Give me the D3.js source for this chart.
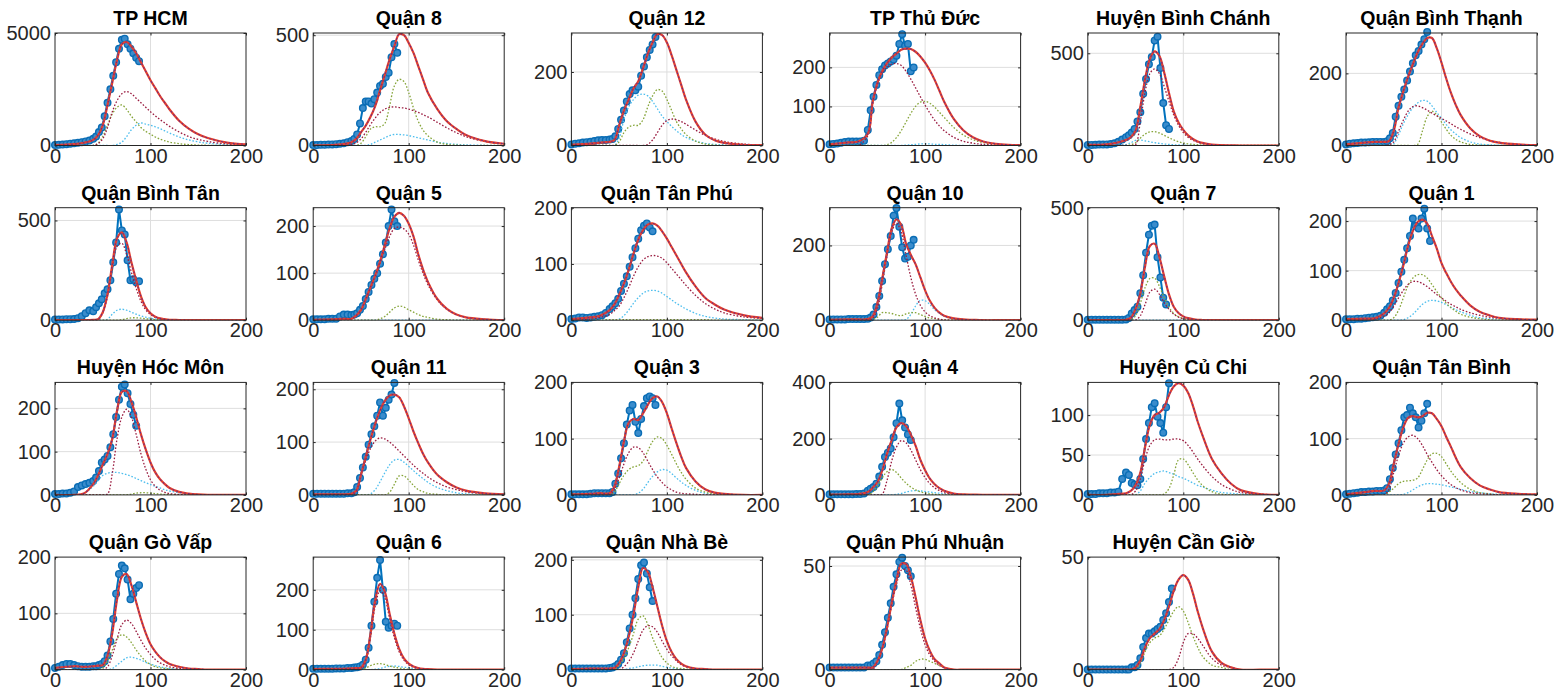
<!DOCTYPE html>
<html><head><meta charset="utf-8">
<script src="https://cdn.jsdelivr.net/npm/d3@7"></script>
<style>body{margin:0;background:#fff} svg{display:block}</style>
</head><body>
<svg id="c" width="1555" height="696"></svg>
<script>
const titles = ["TP HCM","Quận 8","Quận 12","TP Thủ Đức","Huyện Bình Chánh","Quận Bình Thạnh",
 "Quận Bình Tân","Quận 5","Quận Tân Phú","Quận 10","Quận 7","Quận 1",
 "Huyện Hóc Môn","Quận 11","Quận 3","Quận 4","Huyện Củ Chi","Quận Tân Bình",
 "Quận Gò Vấp","Quận 6","Quận Nhà Bè","Quận Phú Nhuận","Huyện Cần Giờ"];
const yMax = [5000,510,306,288,610,312,564,239,200,301,500,227,260,213,200,400,141,200,200,282,205,54.3,50];
const yTicks = [[0,5000],[0,500],[0,200],[0,100,200],[0,500],[0,200],[0,500],[0,100,200],[0,100,200],[0,200],[0,500],[0,100,200],
 [0,100,200],[0,100,200],[0,100,200],[0,200,400],[0,50,100],[0,100,200],[0,100,200],[0,100,200],[0,100,200],[0,50],[0,50]];
const xTicks = [0,100,200];
const obsX = [0,4,8,12,16,20,24,28,32,36,40,43,46,49,52,55,58,61,64,67,70,73,76,79,82,85,88];
const fitX = [0,20,30,40,45,50,55,60,65,70,75,80,85,90,95,100,105,110,115,120,130,140,150,160,180,200];

const observed = [
 [20,30,40,60,80,100,120,150,180,220,300,400,600,800,1300,1900,2500,3100,3700,4300,4700,4750,4500,4300,4100,3900,3750],
 [2,2,3,3,4,5,6,8,10,15,20,30,50,100,170,200,200,190,210,240,270,280,310,330,400,460,420],
 [3,5,6,8,9,10,12,14,15,15,16,18,25,45,70,95,120,140,150,150,160,190,215,240,260,275,295],
 [3,4,5,7,9,10,10,10,10,12,40,90,125,155,180,195,205,210,215,220,230,260,285,255,260,190,200],
 [3,3,4,5,5,6,8,12,20,32,45,55,70,90,130,180,280,360,440,480,570,590,420,230,110,90],
 [3,5,6,7,8,8,9,10,10,10,10,12,20,35,80,110,135,155,180,205,228,250,262,280,295,315],
 [3,3,4,5,5,6,10,20,35,50,45,65,85,105,135,155,200,290,390,555,450,430,300,200,205,190,195],
 [2,2,2,2,3,3,3,8,12,12,11,12,15,22,30,45,60,75,88,100,120,140,165,200,235,210,200],
 [2,3,5,5,4,5,6,7,9,13,20,25,30,38,52,65,78,95,112,128,145,160,168,172,165,158],
 [2,2,2,2,2,3,3,3,3,3,4,7,15,35,65,105,150,190,225,280,300,250,195,165,170,200,215],
 [2,2,2,2,2,2,2,2,2,2,3,10,30,45,60,120,200,300,380,420,425,280,190,100,70],
 [2,2,2,3,3,4,5,6,7,9,15,22,28,40,55,75,98,122,145,170,205,190,185,205,225,185,160],
 [2,2,3,3,5,8,18,22,25,28,32,40,55,75,82,90,110,140,180,220,250,255,235,210,185,160],
 [2,2,2,2,2,2,2,2,2,3,3,5,15,32,52,72,95,115,130,150,175,150,165,180,190,212],
 [1,1,1,1,1,2,3,3,3,3,3,5,20,38,65,92,125,150,160,130,110,135,158,172,175,172,160],
 [2,2,2,2,2,2,2,3,3,5,15,22,28,40,65,100,135,150,165,205,255,325,265,240,215,195],
 [1,1,1,2,2,2,3,3,4,20,28,25,15,13,12,20,45,70,90,110,115,98,90,78,110,140],
 [1,2,3,4,5,5,6,6,7,7,8,12,28,48,72,92,115,138,142,155,145,138,120,132,145,162],
 [3,5,8,10,10,8,6,5,5,5,6,6,8,10,15,25,50,90,135,170,185,180,160,125,135,145,150],
 [2,2,2,2,2,2,3,3,3,4,4,5,6,8,12,25,55,110,170,230,275,200,120,105,110,115,110],
 [2,2,2,2,2,2,2,2,2,2,3,4,6,10,18,30,50,75,100,130,165,190,195,175,150,125],
 [1,1,1,1,1,1,1,1,1,1,2,2,3,4,7,12,18,25,32,40,46,52,54,50,48,45],
 [0,0,0,0,0,0,0,0,0,0,0,0,1,1,2,5,10,14,16,16,17,18,19,22,25,30,36]
];

const fitTotal = [
 [20,60,120,250,450,900,1800,2800,3800,4500,4600,4400,4100,3700,3300,2900,2550,2200,1900,1600,1100,750,500,330,130,50],
 [0,2,5,15,30,60,90,130,180,250,320,390,450,505,500,465,420,360,300,240,165,110,75,48,20,8],
 [2,5,8,10,15,55,95,125,155,175,210,250,280,303,300,280,245,205,165,125,65,30,14,7,2,1],
 [3,8,10,30,110,160,190,210,225,235,245,248,247,240,228,212,192,168,140,112,68,39,21,11,3,1],
 [3,6,15,30,45,80,210,360,470,510,485,395,285,185,125,85,55,35,22,14,5,2,1,0,0,0],
 [3,8,10,10,12,40,105,150,190,225,258,282,298,298,270,230,185,145,112,85,48,26,14,8,3,1],
 [0,0,0,2,5,40,130,280,410,440,390,290,200,120,65,35,18,9,5,2,1,0,0,0,0,0],
 [1,2,3,3,10,22,45,70,95,125,160,195,220,228,222,205,178,140,108,82,45,24,12,6,2,0],
 [2,5,8,18,28,45,65,90,118,143,160,170,172,168,158,145,130,115,100,85,60,40,28,19,9,4],
 [1,2,2,3,10,45,110,180,245,270,255,205,175,150,115,80,52,33,20,12,5,2,1,0,0,0],
 [1,1,1,2,10,50,120,240,330,340,280,195,115,60,32,17,9,5,2,1,0,0,0,0,0,0],
 [2,3,4,14,25,45,75,110,150,180,198,203,195,170,145,115,95,77,62,50,30,17,10,5,2,1],
 [0,0,3,25,45,70,95,130,195,238,240,215,180,140,105,75,52,36,25,16,7,3,1,0,0,0],
 [1,1,1,2,8,38,72,105,135,160,178,188,190,185,168,145,120,98,78,62,38,24,14,8,3,1],
 [1,2,3,3,15,50,95,128,135,133,145,160,172,175,165,145,118,92,68,48,24,10,4,2,0,0],
 [1,2,3,10,25,45,85,145,195,240,255,245,215,175,125,88,58,38,24,15,5,2,1,0,0,0],
 [0,0,1,2,5,12,28,60,88,100,103,110,125,136,140,137,128,112,92,75,45,27,14,6,1,0],
 [1,5,7,8,20,55,90,120,137,140,138,140,146,145,135,122,103,85,66,50,30,17,10,5,2,1],
 [3,6,5,6,7,8,25,65,125,165,170,150,120,90,65,45,32,22,15,10,5,2,1,0,0,0],
 [1,2,2,3,4,5,25,90,175,215,195,140,90,52,28,15,8,4,2,1,0,0,0,0,0,0],
 [1,2,2,2,3,12,30,60,100,150,185,178,150,115,80,52,32,19,11,6,2,1,0,0,0,0],
 [1,1,1,1,1,4,10,20,32,43,51,51,45,35,24,15,9,5,3,1,0,0,0,0,0,0],
 [0,0,0,0,0,1,4,10,14,16,18,22,28,35,40,42,40,34,26,19,8,3,1,0,0,0]
];

const compMaroon = [
 [0,0,0,0,80,300,800,1500,2000,2300,2400,2300,2100,1900,1700,1500,1320,1150,1000,850,600,400,270,180,70,30],
 [0,0,0,5,12,30,60,95,125,150,165,173,175,172,170,165,158,150,140,130,105,80,58,40,18,7],
 [0,0,0,0,0,0,0,0,0,0,0,3,15,35,55,68,72,70,65,58,42,28,18,11,4,1],
 [0,0,0,25,105,155,185,200,208,210,205,190,170,148,125,103,83,65,50,38,21,11,6,3,1,0],
 [0,0,0,0,0,5,130,290,390,415,390,320,240,165,110,70,45,28,18,10,3,1,0,0,0,0],
 [0,0,0,0,2,10,40,70,95,108,110,105,98,90,82,75,68,60,52,45,32,22,14,9,3,1],
 [0,0,0,0,3,35,120,260,370,385,330,240,160,95,52,28,14,7,3,2,0,0,0,0,0,0],
 [0,0,1,2,8,20,42,67,92,120,150,178,195,198,194,183,160,128,100,76,43,23,12,6,2,0],
 [0,2,5,10,17,25,40,58,78,95,107,113,115,114,110,102,92,82,72,62,44,30,20,13,6,3],
 [0,0,0,0,5,30,95,170,235,260,235,175,115,70,40,22,12,6,3,1,0,0,0,0,0,0],
 [0,0,0,0,0,0,20,70,125,138,115,78,48,27,14,7,4,2,1,0,0,0,0,0,0,0],
 [0,0,2,8,15,28,45,60,72,78,78,74,68,60,52,45,38,32,27,22,15,10,6,4,1,0],
 [0,0,0,0,0,0,2,50,130,180,198,180,140,95,60,35,20,11,6,3,1,0,0,0,0,0],
 [0,0,0,0,5,35,65,88,102,108,106,100,92,83,74,65,56,48,41,34,23,15,10,6,2,1],
 [0,0,0,0,10,30,55,75,85,84,75,60,45,32,22,14,9,5,3,2,1,0,0,0,0,0],
 [0,0,0,0,0,0,2,50,120,170,193,185,160,125,90,62,40,25,15,8,2,1,0,0,0,0],
 [0,0,0,0,0,5,20,45,62,69,70,69,69,70,70,68,62,54,45,37,23,13,7,3,1,0],
 [0,0,0,0,10,40,70,92,103,106,100,88,72,58,45,34,25,18,13,9,4,2,1,0,0,0],
 [0,0,0,0,0,0,5,25,55,80,88,82,68,52,38,27,18,12,8,5,2,0,0,0,0,0],
 [0,0,0,0,0,0,20,80,160,198,180,128,80,45,24,12,6,3,1,0,0,0,0,0,0,0],
 [0,0,0,0,0,0,5,15,30,52,72,80,78,68,52,37,25,16,9,5,2,0,0,0,0,0],
 [0,0,0,0,0,4,10,19,31,41,48,48,41,30,20,12,7,4,2,1,0,0,0,0,0,0],
 [0,0,0,0,0,0,0,0,0,0,0,0,0,1,5,12,16,16,14,11,5,2,1,0,0,0]
];

const compGreen = [
 [0,0,0,0,100,400,900,1400,1700,1800,1600,1300,1050,800,630,500,380,280,210,150,80,40,20,10,2,0],
 [0,0,0,0,0,10,40,75,85,85,100,180,270,300,290,240,170,110,70,45,15,5,2,0,0,0],
 [0,0,0,0,0,10,35,50,55,55,70,105,135,152,148,125,95,65,45,30,12,4,1,0,0,0],
 [0,0,0,0,0,0,0,2,8,20,38,60,82,100,111,113,108,98,85,72,46,27,15,8,2,1],
 [0,0,0,0,5,15,40,62,74,75,68,55,42,30,20,14,9,6,4,2,1,0,0,0,0,0],
 [0,0,0,0,0,0,0,0,0,0,3,40,80,95,85,65,45,28,17,10,3,1,0,0,0,0],
 [0,0,0,0,0,0,0,0,0,3,8,12,12,10,7,5,3,2,1,0,0,0,0,0,0,0],
 [0,0,0,0,0,0,0,0,0,3,8,17,26,30,28,22,17,12,8,6,2,1,0,0,0,0],
 [0,0,0,1,1,1,1,1,1,1,1,1,1,1,1,1,1,1,1,1,1,1,0,0,0,0],
 [0,0,0,0,2,8,20,20,18,14,12,17,20,20,15,10,6,4,2,1,0,0,0,0,0,0],
 [0,0,0,0,0,20,75,145,185,187,150,100,58,30,15,7,4,2,1,0,0,0,0,0,0,0],
 [0,0,0,0,0,5,20,45,70,85,92,92,85,72,58,45,34,25,18,12,6,3,1,0,0,0],
 [0,0,0,0,0,0,0,0,0,0,0,2,4,5,5,4,3,2,1,1,0,0,0,0,0,0],
 [0,0,0,0,0,0,0,0,0,0,0,5,20,36,36,28,18,10,6,3,1,0,0,0,0,0],
 [0,0,0,0,5,20,35,45,50,52,60,78,95,103,100,88,72,55,40,28,12,5,2,0,0,0],
 [0,0,0,0,10,30,60,82,90,80,60,42,28,18,11,7,4,2,1,0,0,0,0,0,0,0],
 [0,0,0,0,0,0,0,0,0,0,0,1,8,25,44,45,38,28,19,12,4,1,0,0,0,0],
 [0,0,0,0,5,12,20,24,25,26,30,45,62,73,74,68,55,42,31,22,10,4,2,0,0,0],
 [0,0,0,0,0,3,15,35,55,62,58,48,35,24,15,9,5,3,2,1,0,0,0,0,0,0],
 [0,0,0,0,0,0,4,10,14,15,13,9,6,4,2,1,0,0,0,0,0,0,0,0,0,0],
 [0,0,0,0,0,8,20,40,65,92,98,82,58,38,22,12,6,3,2,1,0,0,0,0,0,0],
 [0,0,0,0,0,0,0,0,0,0,0,1,2,4,5,5,4,3,2,1,0,0,0,0,0,0],
 [0,0,0,0,0,0,3,8,12,14,15,18,22,26,28,26,21,15,10,6,2,1,0,0,0,0]
];

const compCyan = [
 [0,0,0,0,0,0,0,0,50,150,400,700,900,1000,950,900,830,750,650,550,380,250,160,100,40,15],
 [0,0,0,0,0,0,1,5,15,25,35,45,50,50,48,45,40,35,30,25,15,9,5,3,1,0],
 [0,0,0,0,0,20,70,105,125,137,140,135,120,100,80,65,52,40,30,22,12,6,3,2,0,0],
 [0,0,0,0,0,0,0,0,0,0,0,1,2,3,4,4,4,3,3,2,1,0,0,0,0,0],
 [0,0,2,5,15,28,30,25,20,15,11,8,6,4,3,2,1,1,0,0,0,0,0,0,0,0],
 [0,0,0,0,0,5,30,60,85,105,118,125,123,110,92,75,58,43,32,22,10,4,2,1,0,0],
 [0,0,0,0,0,0,5,30,50,55,50,40,30,22,15,10,6,4,2,1,0,0,0,0,0,0],
 [0,0,0,0,0,0,0,0,0,0,0,0,0,0,0,0,0,0,0,0,0,0,0,0,0,0],
 [0,0,0,0,0,2,8,18,30,40,48,52,53,52,48,42,36,30,25,20,12,7,4,2,1,0],
 [0,0,0,0,0,0,0,0,0,0,0,2,15,38,53,52,42,28,18,10,4,1,0,0,0,0],
 [0,0,0,0,0,0,0,0,0,0,0,0,0,0,0,0,0,0,0,0,0,0,0,0,0,0],
 [0,0,0,0,0,0,0,1,5,12,22,32,38,40,39,36,31,26,21,17,10,5,3,2,1,0],
 [0,0,3,20,33,45,50,52,52,50,47,43,38,33,28,24,20,16,12,9,5,2,1,0,0,0],
 [0,0,0,0,0,0,0,2,10,25,42,57,66,67,62,54,46,38,31,24,14,8,4,2,1,0],
 [0,0,0,0,0,0,0,0,0,3,10,22,33,41,45,44,38,30,23,17,8,3,1,0,0,0],
 [0,0,0,0,0,0,0,0,0,2,5,10,14,15,14,12,10,8,6,4,2,1,0,0,0,0],
 [0,0,0,0,0,0,5,15,22,27,29,30,28,26,23,21,18,15,12,10,6,3,2,1,0,0],
 [0,0,0,0,0,0,0,1,4,9,14,18,20,20,19,18,16,14,12,10,6,4,2,1,0,0],
 [0,0,0,0,0,0,0,2,8,15,21,22,20,17,13,10,7,5,3,2,1,0,0,0,0,0],
 [0,0,0,0,0,0,0,0,1,3,6,8,9,8,6,5,3,2,1,1,0,0,0,0,0,0],
 [0,0,0,0,0,0,0,2,3,5,7,8,8,8,6,4,3,2,1,0,0,0,0,0,0,0],
 [0,0,0,0,0,0,0,0,0,0,0,0,0,0,0,0,0,0,0,0,0,0,0,0,0,0],
 [0,0,0,0,0,0,0,0,0,0,0,0,0,0,0,0,0,0,0,0,0,0,0,0,0,0]
];

const svg = d3.select('#c');
const W = 191, H = 112.5;
const FONT = '"Liberation Sans", Arial, Helvetica, sans-serif';
const axisCol = '#262626';

titles.forEach((t, i) => {
  const col = i % 6, row = Math.floor(i / 6);
  const x0 = 55 + col * 258.2, y0 = 33 + row * 174.7;
  const g = svg.append('g').attr('transform', `translate(${x0},${y0})`);
  const x = d3.scaleLinear().domain([0, 200]).range([0, W]);
  const y = d3.scaleLinear().domain([0, yMax[i]]).range([H, 0]);

  // grid
  const grid = g.append('g').attr('stroke', '#dedede').attr('stroke-width', 1);
  xTicks.filter(v => v > 0 && v < 200).forEach(v =>
    grid.append('line').attr('x1', x(v)).attr('x2', x(v)).attr('y1', 0).attr('y2', H));
  yTicks[i].filter(v => v > 0 && v < yMax[i]).forEach(v =>
    grid.append('line').attr('x1', 0).attr('x2', W).attr('y1', y(v)).attr('y2', y(v)));

  // clip
  const cid = 'clip' + i;
  g.append('clipPath').attr('id', cid).append('rect').attr('x', 0).attr('y', 0).attr('width', W).attr('height', H);

  // observed
  const obs = observed[i].map((v, k) => [obsX[k], v]);
  const ol = d3.line().x(d => x(d[0])).y(d => y(d[1]));
  g.append('path').attr('d', ol(obs)).attr('fill', 'none').attr('stroke', '#0072BD').attr('stroke-width', 2);
  g.append('g').selectAll('circle').data(obs).join('circle')
    .attr('cx', d => x(d[0])).attr('cy', d => y(d[1])).attr('r', 3.3)
    .attr('fill', '#3a8ccc').attr('stroke', '#0a6db5').attr('stroke-width', 1.4);

  // model curves
  const cl = d3.line().x(d => x(d[0])).y(d => y(d[1])).curve(d3.curveCatmullRom.alpha(0.5));
  const mk = arr => arr.map((v, k) => [fitX[k], v]);
  const mg = g.append('g').attr('clip-path', `url(#${cid})`);
  [[compCyan, '#4DBEEE'], [compGreen, '#86a53a'], [compMaroon, '#9a1c40']].forEach(([arr, c]) => {
    mg.append('path').attr('d', cl(mk(arr[i]))).attr('fill', 'none').attr('stroke', c)
      .attr('stroke-width', 1.3).attr('stroke-dasharray', '1.6,1.8');
  });
  mg.append('path').attr('d', cl(mk(fitTotal[i]))).attr('fill', 'none').attr('stroke', '#e2402f').attr('stroke-width', 2.2);
  mg.append('path').attr('d', cl(mk(fitTotal[i]))).attr('fill', 'none').attr('stroke', '#6b2a86')
    .attr('stroke-width', 1.1).attr('stroke-dasharray', '1.6,2.4');

  // axes
  const fmt = d3.format('d');
  g.append('g').attr('transform', `translate(0,${H})`)
    .call(d3.axisBottom(x).tickValues(xTicks).tickSizeInner(-2.5).tickSizeOuter(0).tickPadding(3).tickFormat(fmt));
  g.append('g')
    .call(d3.axisLeft(y).tickValues(yTicks[i]).tickSizeInner(-2.5).tickSizeOuter(0).tickPadding(4).tickFormat(fmt));
  g.append('g').call(d3.axisTop(x).tickValues(xTicks).tickSizeInner(-2.5).tickSizeOuter(0).tickFormat(''));
  g.append('g').attr('transform', `translate(${W},0)`)
    .call(d3.axisRight(y).tickValues(yTicks[i]).tickSizeInner(-2.5).tickSizeOuter(0).tickFormat(''));
  g.selectAll('.domain').remove();
  g.selectAll('.tick line').attr('stroke', axisCol);
  g.selectAll('.tick text').attr('fill', axisCol).style('font-family', FONT).style('font-size', '20px');

  g.append('rect').attr('x', 0).attr('y', 0).attr('width', W).attr('height', H)
    .attr('fill', 'none').attr('stroke', axisCol).attr('stroke-width', 1);

  g.append('text').attr('x', W / 2).attr('y', -8).attr('text-anchor', 'middle')
    .style('font-family', FONT).style('font-size', '19.5px').style('font-weight', 'bold')
    .attr('fill', '#000').text(t);
});
</script>
</body></html>
